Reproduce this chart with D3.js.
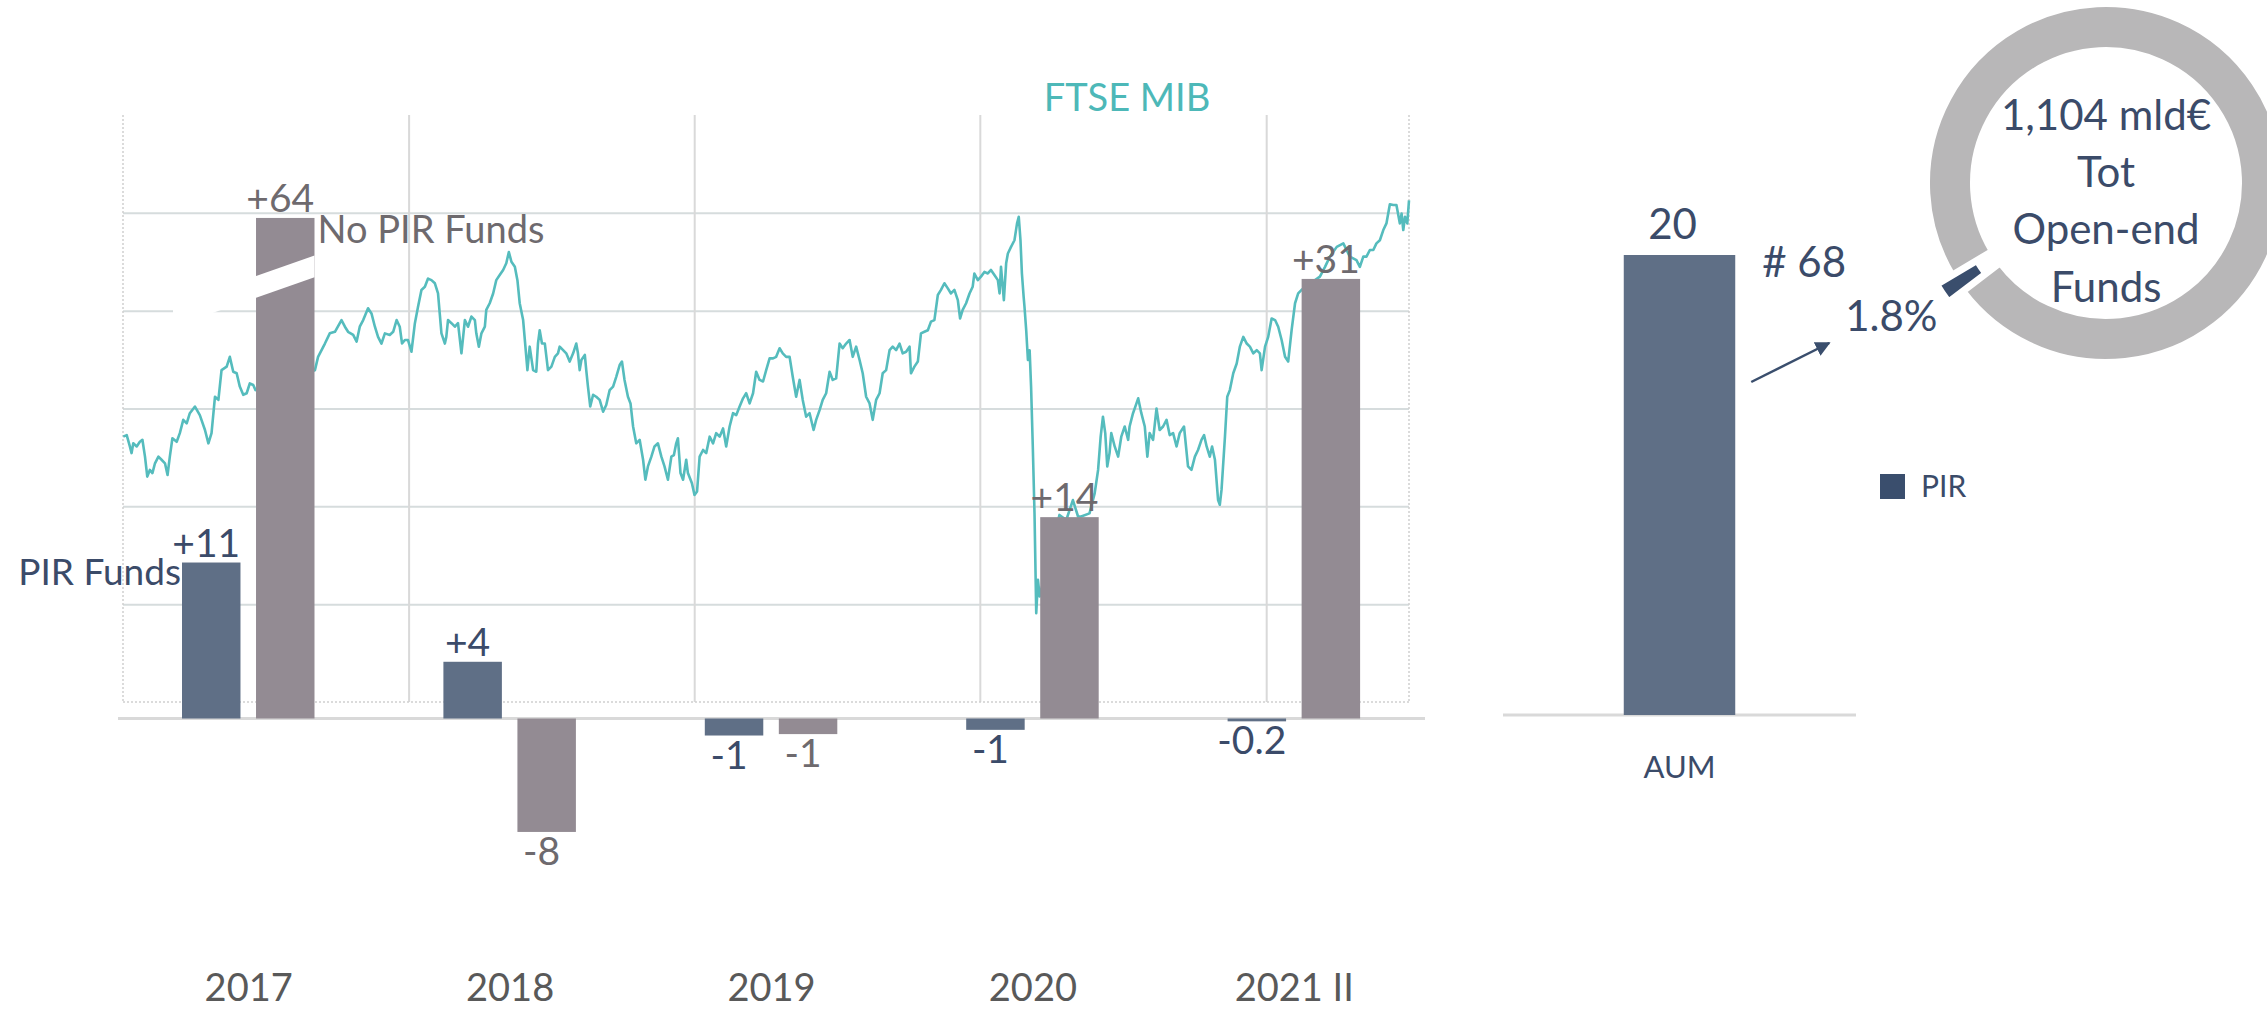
<!DOCTYPE html>
<html>
<head>
<meta charset="utf-8">
<script src="https://cdn.jsdelivr.net/npm/d3@7"></script>
<style>
  body { margin: 0; background: #fff; }
  svg { display: block; font-family: Lato, "Open Sans", sans-serif; }
</style>
</head>
<body>
<svg id="chart" width="2267" height="1010"></svg>
<script>
// ---- data ----
const years = ["2017", "2018", "2019", "2020", "2021 II"];
const pirFlows = [11, 4, -1.2, -0.8, -0.2];
const noPirFlows = [64, -8, -1.1, 14.2, 31];
const pirLabels = ["+11", "+4", "-1", "-1", "-0.2"];
const noPirLabels = ["+64", "-8", "-1", "+14", "+31"];

const aumCategories = ["AUM"];
const aumValues = [20];
const donutShares = [1.8, 98.2]; // PIR vs other open-end funds
const donutText = ["1,104 mld€", "Tot", "Open-end", "Funds"];

const ftseGrid = [15000, 17500, 20000, 22500, 25000];
const yearBreaks = [2018, 2019, 2020, 2021];

// FTSE MIB (decimal year, index points)
const ftseT = [
  2017.001, 2017.013, 2017.024, 2017.030, 2017.036, 2017.048, 2017.059, 2017.068, 2017.077, 2017.085,
  2017.094, 2017.103, 2017.112, 2017.124, 2017.135, 2017.147, 2017.156, 2017.164, 2017.173, 2017.188,
  2017.199, 2017.211, 2017.223, 2017.234, 2017.252, 2017.269, 2017.287, 2017.299, 2017.310, 2017.322,
  2017.334, 2017.345, 2017.363, 2017.374, 2017.386, 2017.398, 2017.409, 2017.421, 2017.433, 2017.444,
  2017.456, 2017.464, 2017.672, 2017.683, 2017.707, 2017.724, 2017.742, 2017.765, 2017.777, 2017.788,
  2017.806, 2017.818, 2017.829, 2017.841, 2017.858, 2017.870, 2017.882, 2017.893, 2017.905, 2017.917,
  2017.934, 2017.946, 2017.958, 2017.969, 2017.977, 2017.987, 2017.998, 2018.010, 2018.022, 2018.033,
  2018.045, 2018.057, 2018.068, 2018.080, 2018.092, 2018.103, 2018.109, 2018.115, 2018.127, 2018.132,
  2018.138, 2018.150, 2018.162, 2018.173, 2018.185, 2018.197, 2018.208, 2018.220, 2018.232, 2018.237,
  2018.246, 2018.255, 2018.267, 2018.272, 2018.284, 2018.296, 2018.307, 2018.319, 2018.331, 2018.342,
  2018.351, 2018.360, 2018.372, 2018.381, 2018.389, 2018.401, 2018.409, 2018.416, 2018.424, 2018.436,
  2018.447, 2018.453, 2018.459, 2018.467, 2018.477, 2018.488, 2018.500, 2018.512, 2018.523, 2018.529,
  2018.541, 2018.552, 2018.564, 2018.576, 2018.587, 2018.593, 2018.599, 2018.605, 2018.617, 2018.622,
  2018.628, 2018.636, 2018.646, 2018.657, 2018.669, 2018.681, 2018.692, 2018.704, 2018.716, 2018.727,
  2018.739, 2018.747, 2018.756, 2018.768, 2018.777, 2018.786, 2018.797, 2018.809, 2018.821, 2018.829,
  2018.838, 2018.850, 2018.861, 2018.873, 2018.885, 2018.896, 2018.908, 2018.920, 2018.929, 2018.937,
  2018.943, 2018.952, 2018.961, 2018.972, 2018.978, 2018.992, 2019.001, 2019.010, 2019.019, 2019.031,
  2019.042, 2019.054, 2019.066, 2019.077, 2019.089, 2019.101, 2019.112, 2019.124, 2019.136, 2019.147,
  2019.159, 2019.171, 2019.182, 2019.194, 2019.206, 2019.217, 2019.229, 2019.241, 2019.252, 2019.264,
  2019.276, 2019.287, 2019.299, 2019.310, 2019.322, 2019.334, 2019.345, 2019.357, 2019.369, 2019.380,
  2019.392, 2019.404, 2019.418, 2019.427, 2019.439, 2019.450, 2019.462, 2019.474, 2019.485, 2019.497,
  2019.509, 2019.520, 2019.532, 2019.544, 2019.555, 2019.567, 2019.579, 2019.590, 2019.602, 2019.614,
  2019.625, 2019.637, 2019.649, 2019.660, 2019.672, 2019.684, 2019.695, 2019.707, 2019.719, 2019.730,
  2019.742, 2019.754, 2019.759, 2019.771, 2019.783, 2019.794, 2019.806, 2019.818, 2019.829, 2019.841,
  2019.853, 2019.864, 2019.876, 2019.888, 2019.899, 2019.911, 2019.923, 2019.931, 2019.940, 2019.952,
  2019.964, 2019.975, 2019.981, 2019.993, 2020.004, 2020.016, 2020.028, 2020.039, 2020.051, 2020.063,
  2020.069, 2020.074, 2020.084, 2020.092, 2020.098, 2020.109, 2020.121, 2020.130, 2020.136, 2020.142,
  2020.147, 2020.153, 2020.156, 2020.162, 2020.168, 2020.174, 2020.179, 2020.185, 2020.191, 2020.197,
  2020.203, 2020.209, 2020.278, 2020.302, 2020.325, 2020.343, 2020.354, 2020.383, 2020.401, 2020.413,
  2020.422, 2020.430, 2020.438, 2020.445, 2020.453, 2020.459, 2020.471, 2020.483, 2020.494, 2020.506,
  2020.518, 2020.523, 2020.535, 2020.547, 2020.553, 2020.564, 2020.576, 2020.585, 2020.593, 2020.605,
  2020.617, 2020.628, 2020.640, 2020.652, 2020.663, 2020.675, 2020.687, 2020.698, 2020.713, 2020.727,
  2020.739, 2020.751, 2020.762, 2020.774, 2020.783, 2020.792, 2020.803, 2020.811, 2020.821, 2020.832,
  2020.838, 2020.844, 2020.856, 2020.864, 2020.873, 2020.885, 2020.897, 2020.908, 2020.920, 2020.932,
  2020.943, 2020.955, 2020.967, 2020.978, 2020.984, 2020.996, 2021.007, 2021.019, 2021.031, 2021.042,
  2021.054, 2021.066, 2021.077, 2021.089, 2021.101, 2021.112, 2021.124, 2021.188, 2021.206, 2021.223,
  2021.247, 2021.270, 2021.293, 2021.316, 2021.328, 2021.340, 2021.351, 2021.363, 2021.375, 2021.386,
  2021.398, 2021.410, 2021.421, 2021.433, 2021.445, 2021.456, 2021.468, 2021.474, 2021.480, 2021.486,
  2021.494, 2021.500
];
const ftseV = [
  19280, 19320, 19030, 18860, 19110, 19030, 19150, 19200, 18770, 18260,
  18430, 18350, 18600, 18770, 18690, 18600, 18300, 18770, 19240, 19150,
  19370, 19710, 19620, 19880, 20050, 19830, 19450, 19110, 19370, 20300,
  20220, 20980, 21070, 21320, 20940, 20900, 20560, 20350, 20390, 20640,
  20600, 20470, 20980, 21320, 21660, 21920, 21960, 22260, 22090, 21960,
  21880, 21710, 22090, 22260, 22560, 22430, 22090, 21830, 21660, 21920,
  21880, 21960, 22260, 22090, 21660, 21750, 21750, 21450, 22180, 22600,
  23030, 23110, 23320, 23280, 23200, 22940, 22430, 21920, 21660, 21830,
  22260, 22180, 22090, 22180, 21410, 22260, 22090, 22350, 22260, 21920,
  21580, 21920, 22090, 22520, 22690, 22940, 23280, 23410, 23540, 23710,
  24000, 23750, 23620, 23280, 22690, 22260, 21580, 20980, 21580, 20980,
  20940, 21660, 22000, 21660, 21660, 20980, 21070, 21320, 21410, 21580,
  21490, 21410, 21200, 21410, 21660, 21410, 20980, 21240, 21370, 20980,
  20560, 20050, 20350, 20300, 20220, 19920, 20090, 20470, 20560, 20810,
  21110, 21200, 20730, 20300, 20130, 19540, 19110, 19200, 18690, 18180,
  18520, 18770, 19030, 19110, 18770, 18520, 18180, 18770, 18810, 19110,
  19240, 18350, 18180, 18690, 18350, 18090, 17790, 17880, 18770, 18940,
  18860, 19280, 19110, 19370, 19280, 19490, 19030, 19540, 19880, 19830,
  20050, 20260, 20390, 20130, 20390, 20940, 20730, 20690, 20980, 21280,
  21280, 21320, 21540, 21410, 21320, 21320, 20810, 20300, 20730, 20220,
  19790, 19880, 19450, 19710, 19960, 20220, 20390, 20940, 20730, 20770,
  21660, 21540, 21660, 21750, 21320, 21580, 21240, 20900, 20300, 20130,
  19710, 20220, 20390, 20900, 20980, 21490, 21580, 21490, 21660, 21410,
  21450, 21580, 20900, 21070, 21200, 21920, 21960, 22000, 22220, 22260,
  22900, 23030, 23200, 23070, 22940, 23030, 22770, 22300, 22520, 22690,
  22940, 23110, 23450, 23280, 23370, 23490, 23450, 23540, 23410, 23280,
  22940, 23620, 22770, 23710, 23960, 24130, 24300, 24730, 24900, 24300,
  23450, 22860, 22600, 22000, 21240, 21490, 20560, 19030, 17320, 14770,
  15620, 15200, 17280, 17150, 17660, 17240, 17240, 17320, 17830, 18430,
  19280, 19790, 19370, 18520, 18860, 19370, 19030, 18770, 19280, 19540,
  19200, 19540, 19880, 20130, 20260, 19880, 19540, 18770, 19370, 19200,
  20000, 19450, 19540, 19710, 19320, 19370, 19030, 19370, 19540, 18520,
  18430, 18770, 18940, 19200, 19320, 19030, 18770, 19030, 18690, 17660,
  17540, 17920, 19280, 20300, 20470, 20900, 21150, 21580, 21830, 21660,
  21580, 21410, 21490, 21410, 20980, 21580, 21830, 22300, 22260, 22090,
  21750, 21320, 21200, 22000, 22690, 22940, 23030, 23370, 23620, 23880,
  24130, 24220, 23880, 23790, 23620, 23880, 23880, 24050, 24050, 24220,
  24300, 24560, 24730, 25220, 25200, 25200, 24730, 24980, 24560, 24900,
  24730, 25320
];

// ---- styles ----
const navy = "#3b4b69";
const darkNavy = "#3a4e6d";
const grey = "#6e6a6e";
const pirColor = "#5f6f86";
const noPirColor = "#938b93";
const teal = "#55bcbd";
const gridColor = "#d6dcdd";

const svg = d3.select("#chart");

function decYear(t) {
    const y = Math.floor(t);
    const a = Date.UTC(y, 0, 1), b = Date.UTC(y + 1, 0, 1);
    return new Date(a + (t - y) * (b - a));
}

// ---- FTSE MIB line panel ----
const xTime = d3.scaleUtc().domain([decYear(2017), decYear(2021.5)]).range([123, 1409]);
const yLine = d3.scaleLinear().domain([12500, 27500]).range([702, 115]);
const [plotL, plotR] = xTime.range();
const [plotB, plotT] = yLine.range();

svg.append("g")
    .attr("transform", `translate(${plotL},0)`)
    .call(d3.axisLeft(yLine).tickValues(ftseGrid).tickSize(-(plotR - plotL)).tickFormat(""))
    .call(g => g.select(".domain").remove())
    .selectAll("line").attr("stroke", gridColor).attr("stroke-width", 2);

svg.append("g")
    .attr("transform", `translate(0,${plotB})`)
    .call(d3.axisBottom(xTime).tickValues(yearBreaks.map(decYear)).tickSize(-(plotB - plotT)).tickFormat(""))
    .call(g => g.select(".domain").remove())
    .selectAll("line").attr("stroke", "#d9d9d9").attr("stroke-width", 2);

// dotted plot frame
const frame = svg.append("g").attr("stroke", "#cfcfcf").attr("stroke-width", 1.5).attr("stroke-dasharray", "2,2");
frame.append("line").attr("x1", plotL).attr("x2", plotL).attr("y1", plotT).attr("y2", plotB);
frame.append("line").attr("x1", plotR).attr("x2", plotR).attr("y1", plotT).attr("y2", plotB);
frame.append("line").attr("x1", plotL).attr("x2", plotR).attr("y1", plotB).attr("y2", plotB);

const ftse = ftseT.map((t, i) => ({ date: decYear(t), value: ftseV[i] }));
svg.append("path")
    .datum(ftse)
    .attr("fill", "none")
    .attr("stroke", teal)
    .attr("stroke-width", 2.6)
    .attr("stroke-linejoin", "round")
    .attr("d", d3.line().x(d => xTime(d.date)).y(d => yLine(d.value)));

svg.append("text")
    .attr("x", 1127).attr("y", 111)
    .attr("text-anchor", "middle")
    .style("font-size", "38px")
    .style("fill", "#4db8b8")
    .text("FTSE MIB");

// ---- flow bars ----
const xBand = d3.scaleBand().domain(years).range([118, 1425]);
const xSub = d3.scaleBand().domain(["pir", "nopir"]).range([64, 196.5]).paddingInner(0.21);
const yBar = d3.scaleLinear().domain([0, 10]).range([718.5, 576.7]);
const breakCap = 35.3; // bars taller than this are drawn broken

const flows = years.flatMap((yr, i) => [
    { year: yr, key: "pir", value: pirFlows[i], label: pirLabels[i] },
    { year: yr, key: "nopir", value: noPirFlows[i], label: noPirLabels[i] }
]);
const barX = d => xBand(d.year) + xSub(d.key);
const barTop = d => yBar(Math.min(Math.max(d.value, 0), breakCap));
const barBottom = d => yBar(Math.min(d.value, 0));

svg.append("line")
    .attr("x1", xBand.range()[0]).attr("x2", xBand.range()[1])
    .attr("y1", yBar(0)).attr("y2", yBar(0))
    .attr("stroke", "#d9d9d9").attr("stroke-width", 3);

svg.append("g").selectAll("rect")
    .data(flows)
    .join("rect")
    .attr("x", barX)
    .attr("y", barTop)
    .attr("width", xSub.bandwidth())
    .attr("height", d => Math.max(barBottom(d) - barTop(d), 1.5))
    .attr("fill", d => d.key === "pir" ? pirColor : noPirColor);

// break marks on bars that exceed the cap
flows.filter(d => d.value > breakCap).forEach(d => {
    const x0 = barX(d), x1 = x0 + xSub.bandwidth();
    const slope = -0.351, gap = 21.6, xl = x0 - 83;
    const yU = x => yBar(31.2) + (x - x0) * slope;
    svg.append("polygon")
        .attr("points", [[xl, yU(xl)], [x1, yU(x1)], [x1, yU(x1) + gap], [xl, yU(xl) + gap]].join(" "))
        .attr("fill", "#fff");
});

svg.append("g").selectAll("text")
    .data(flows)
    .join("text")
    .attr("x", d => barX(d) + xSub.bandwidth() / 2 - 5)
    .attr("y", d => d.value >= 0 ? barTop(d) - 6 : barBottom(d) + 33)
    .attr("text-anchor", "middle")
    .style("font-size", "39px")
    .style("fill", d => d.key === "pir" ? navy : grey)
    .text(d => d.label);

// series names next to the first bars
const firstPir = flows[0], firstNoPir = flows[1];
svg.append("text")
    .attr("x", barX(firstPir) - 1).attr("y", barTop(firstPir) + 22)
    .attr("text-anchor", "end")
    .style("font-size", "37px").style("fill", navy)
    .text("PIR Funds");
svg.append("text")
    .attr("x", barX(firstNoPir) + xSub.bandwidth() + 3).attr("y", barTop(firstNoPir) + 25)
    .style("font-size", "38px").style("fill", grey)
    .text("No PIR Funds");

svg.append("g")
    .attr("transform", "translate(0,974)")
    .call(d3.axisBottom(xBand).tickSize(0).tickPadding(0))
    .call(g => g.select(".domain").remove())
    .call(g => g.selectAll("text")
        .style("font-family", "Lato, 'Open Sans', sans-serif")
        .style("font-size", "38px")
        .style("fill", "#595959"));

// ---- AUM panel ----
const xAum = d3.scaleBand().domain(aumCategories).range([1503, 1856]).padding(0.52);
const yAum = d3.scaleLinear().domain([0, 20]).range([715, 255]);

svg.append("line")
    .attr("x1", xAum.range()[0]).attr("x2", xAum.range()[1])
    .attr("y1", yAum(0)).attr("y2", yAum(0))
    .attr("stroke", "#d9d9d9").attr("stroke-width", 3);

svg.append("g").selectAll("rect")
    .data(aumValues)
    .join("rect")
    .attr("x", (d, i) => xAum(aumCategories[i]))
    .attr("y", d => yAum(d))
    .attr("width", xAum.bandwidth())
    .attr("height", d => yAum(0) - yAum(d))
    .attr("fill", pirColor);

svg.append("g").selectAll("text")
    .data(aumValues)
    .join("text")
    .attr("x", (d, i) => xAum(aumCategories[i]) + xAum.bandwidth() / 2 - 7)
    .attr("y", d => yAum(d) - 16)
    .attr("text-anchor", "middle")
    .style("font-size", "42px").style("fill", navy)
    .text(d => d);

svg.append("g")
    .attr("transform", "translate(0,756)")
    .call(d3.axisBottom(xAum).tickSize(0).tickPadding(0))
    .call(g => g.select(".domain").remove())
    .call(g => g.selectAll("text")
        .style("font-family", "Lato, 'Open Sans', sans-serif")
        .style("font-size", "31px")
        .style("fill", navy));

const aumRight = xAum(aumCategories[0]) + xAum.bandwidth();
svg.append("text")
    .attr("x", aumRight + 27).attr("y", yAum(aumValues[0]) + 22)
    .style("font-size", "42px").style("fill", navy)
    .text("# 68");

// arrow to the donut
svg.append("defs").append("marker")
    .attr("id", "arrow")
    .attr("viewBox", "0 0 10 10")
    .attr("refX", 9).attr("refY", 5)
    .attr("markerWidth", 6).attr("markerHeight", 6)
    .attr("orient", "auto")
    .append("path").attr("d", "M0,0L10,5L0,10z").attr("fill", darkNavy);

svg.append("line")
    .attr("x1", aumRight + 16).attr("y1", yAum(aumValues[0]) + 127)
    .attr("x2", aumRight + 94).attr("y2", yAum(aumValues[0]) + 88)
    .attr("stroke", darkNavy).attr("stroke-width", 2.5)
    .attr("marker-end", "url(#arrow)");

svg.append("text")
    .attr("x", aumRight + 110).attr("y", yAum(aumValues[0]) + 76)
    .style("font-size", "42px").style("fill", navy)
    .text(donutShares[0].toFixed(1) + "%");

// ---- donut ----
const cx = 2106, cy = 183;
const sliceSpan = donutShares[0] / d3.sum(donutShares) * 2 * Math.PI;
const sliceMid = 236 * Math.PI / 180;
const pie = d3.pie().sort(null)
    .startAngle(sliceMid - sliceSpan / 2)
    .endAngle(sliceMid - sliceSpan / 2 + 2 * Math.PI);
const arc = d3.arc().innerRadius(133).outerRadius(179);

const donut = svg.append("g").attr("transform", `translate(${cx},${cy})`);
donut.selectAll("path")
    .data(pie(donutShares))
    .join("path")
    .attr("d", arc)
    .attr("transform", (d, i) => {
        if (i !== 0) return null;
        const a = (d.startAngle + d.endAngle) / 2;
        return `translate(${18 * Math.sin(a)},${-18 * Math.cos(a)})`;
    })
    .attr("fill", (d, i) => i === 0 ? darkNavy : "#b8b7b8")
    .attr("stroke", "#fff")
    .attr("stroke-width", 6);

donut.selectAll("text")
    .data(donutText)
    .join("text")
    .attr("x", 0)
    .attr("y", (d, i) => -53 + i * 57.2)
    .attr("text-anchor", "middle")
    .style("font-size", "42px").style("fill", navy)
    .text(d => d);

// legend
svg.append("rect")
    .attr("x", 1880).attr("y", 474).attr("width", 25).attr("height", 25)
    .attr("fill", darkNavy);
svg.append("text")
    .attr("x", 1921).attr("y", 497)
    .style("font-size", "30px").style("fill", navy)
    .text("PIR");
</script>
</body>
</html>
